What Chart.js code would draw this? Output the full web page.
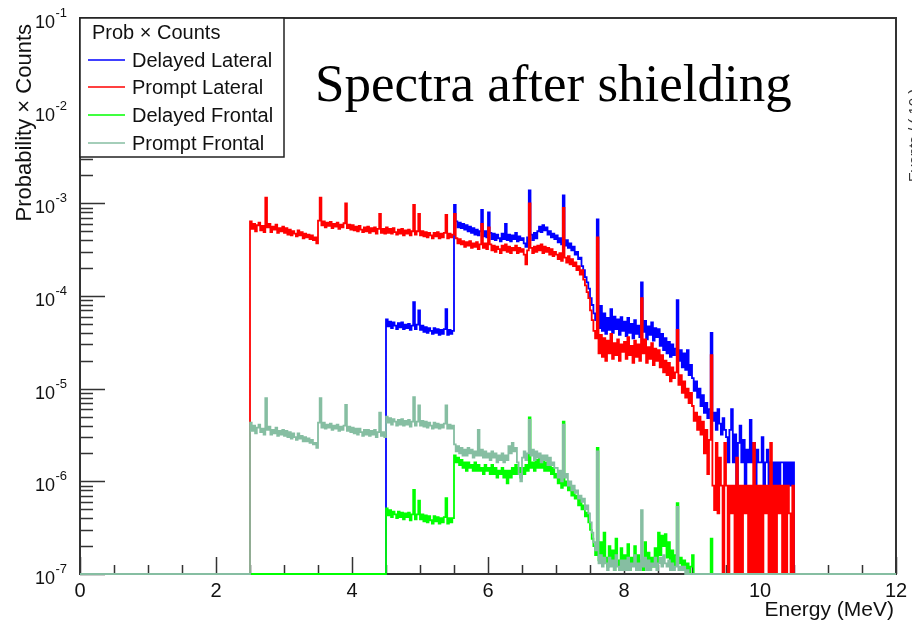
<!DOCTYPE html>
<html>
<head>
<meta charset="utf-8">
<title>Spectra after shielding</title>
<script src="https://cdn.jsdelivr.net/npm/chart.js@4.4.1/dist/chart.umd.min.js"></script>
<style>
  html, body { margin: 0; padding: 0; background: #fff; overflow: hidden; }
  canvas { display: block; }
</style>
</head>
<body>
<canvas id="spectra" width="912" height="622"></canvas>
<script>
// histograms: bins of 0.025 MeV, one row per 0.5 MeV, empty bins = 0
const binWidth = 0.025;
const promptStart = 2.5;
const delayedStart = 4.5;

const energyTicks = [0, 2, 4, 6, 8, 10, 12];
const energyTickLabels = ['0', '2', '4', '6', '8', '10', '12'];
const decadeTicks = [1e-7, 1e-6, 1e-5, 1e-4, 1e-3, 1e-2, 1e-1];
const decadeExponents = ['-7', '-6', '-5', '-4', '-3', '-2', '-1'];

const seriesNames = ['Delayed Lateral', 'Prompt Lateral', 'Delayed Frontal', 'Prompt Frontal'];
const seriesColors = ['#0000ff', '#ff0000', '#00ff00', '#86bea2'];

// starts at 4.5 MeV
const delayedLateral = [
  5.6e-5, 4.7e-5, 5.3e-5, 4.5e-5, 5.2e-5, 4.8e-5, 4.4e-5, 5.1e-5, 4.6e-5, 5.2e-5, 4.4e-5, 4.9e-5, 4.5e-5, 5.0e-5, 4.3e-5, 4.8e-5, 8.6e-5, 4.4e-5, 4.9e-5, 7.0e-5,
  4.3e-5, 4.8e-5, 4.1e-5, 4.6e-5, 4.0e-5, 4.5e-5, 4.2e-5, 3.9e-5, 4.5e-5, 4.0e-5, 4.4e-5, 3.8e-5, 4.3e-5, 3.9e-5, 4.4e-5, 7.2e-5, 3.8e-5, 4.3e-5, 3.9e-5, 4.2e-5,
  9.6e-4, 6.4e-4, 5.5e-4, 6.2e-4, 5.4e-4, 6.0e-4, 5.2e-4, 5.8e-4, 5.0e-4, 5.6e-4, 4.8e-4, 5.4e-4, 4.6e-4, 5.2e-4, 4.5e-4, 5.0e-4, 8.5e-4, 4.4e-4, 5.0e-4, 4.3e-4,
  8.0e-4, 4.8e-4, 4.1e-4, 4.7e-4, 4.0e-4, 4.6e-4, 4.2e-4, 3.9e-4, 4.7e-4, 4.1e-4, 6.0e-4, 4.0e-4, 4.6e-4, 3.9e-4, 4.5e-4, 4.1e-4, 4.8e-4, 3.9e-4, 4.4e-4, 4.0e-4,
  4.2e-4, 3.7e-4, 3.4e-4, 4.3e-4, 1.38e-3, 4.6e-4, 4.0e-4, 4.8e-4, 4.2e-4, 5.0e-4, 5.6e-4, 4.9e-4, 5.8e-4, 5.1e-4, 5.5e-4, 4.6e-4, 5.0e-4, 4.3e-4, 4.7e-4, 4.1e-4,
  4.5e-4, 3.8e-4, 4.2e-4, 3.6e-4, 1.22e-3, 3.5e-4, 4.0e-4, 3.3e-4, 3.7e-4, 3.1e-4, 3.4e-4, 2.8e-4, 3.0e-4, 2.5e-4, 2.6e-4, 2.1e-4, 1.9e-4, 1.6e-4, 1.4e-4, 1.2e-4,
  9.5e-5, 8.0e-5, 6.5e-5, 5.5e-5, 6.7e-4, 4.5e-5, 7.8e-5, 4.2e-5, 6.5e-5, 3.9e-5, 5.8e-5, 4.3e-5, 7.2e-5, 4.0e-5, 6.0e-5, 4.4e-5, 5.6e-5, 3.8e-5, 5.9e-5, 4.2e-5,
  5.3e-5, 3.7e-5, 5.8e-5, 4.0e-5, 5.0e-5, 3.5e-5, 5.5e-5, 3.9e-5, 4.8e-5, 3.6e-5, 1.4e-4, 4.1e-5, 5.4e-5, 3.4e-5, 4.7e-5, 3.8e-5, 5.2e-5, 3.3e-5, 4.5e-5, 3.6e-5,
  4.4e-5, 2.9e-5, 3.9e-5, 2.6e-5, 3.5e-5, 2.4e-5, 3.2e-5, 2.2e-5, 3.0e-5, 2.3e-5, 2.7e-5, 9.0e-5, 2.0e-5, 2.6e-5, 1.7e-5, 2.4e-5, 1.6e-5, 2.6e-5, 1.4e-5, 1.8e-5,
  1.3e-5, 9.5e-6, 1.2e-5, 8.0e-6, 1.0e-5, 6.5e-6, 8.5e-6, 5.5e-6, 7.0e-6, 4.8e-6, 6.0e-6, 4.0e-5, 4.5e-6, 5.5e-6, 3.6e-6, 6.0e-6, 4.2e-6, 3.2e-6, 4.8e-6, 3.6e-6,
  3.0e-6, 1.6e-6, 3.6e-6, 6.0e-6, 1.6e-6, 3.2e-6, 9e-7, 2.6e-6, 4.0e-6, 1.6e-6, 2.8e-6, 9e-7, 2.2e-6, 1.6e-6, 4.6e-6, 1.6e-6, 2.6e-6, 9e-7, 2.2e-6, 1.6e-6,
  1.6e-6, 3.0e-6, 9e-7, 1.6e-6, 2.2e-6, 9e-7, 1.6e-6, 9e-7, 1.6e-6, 9e-7, 1.6e-6, 9e-7, 1.6e-6, 1.6e-6, 9e-7, 1.6e-6, 9e-7, 1.6e-6, 9e-7, 1.6e-6
];

// starts at 2.5 MeV
const promptLateral = [
  6.4e-4, 5.3e-4, 6.0e-4, 5.0e-4, 5.8e-4, 6.2e-4, 5.1e-4, 5.7e-4, 4.9e-4, 1.15e-3, 5.5e-4, 6.0e-4, 4.9e-4, 5.6e-4, 5.2e-4, 5.9e-4, 4.8e-4, 5.4e-4, 5.0e-4, 5.6e-4,
  4.8e-4, 5.4e-4, 4.6e-4, 5.2e-4, 4.5e-4, 5.0e-4, 4.7e-4, 4.4e-4, 5.1e-4, 4.5e-4, 4.9e-4, 4.2e-4, 4.7e-4, 4.3e-4, 4.6e-4, 4.1e-4, 4.5e-4, 4.0e-4, 4.3e-4, 3.7e-4,
  6.5e-4, 1.15e-3, 5.8e-4, 6.4e-4, 5.5e-4, 6.2e-4, 5.7e-4, 6.3e-4, 5.4e-4, 6.0e-4, 5.6e-4, 6.2e-4, 5.3e-4, 5.9e-4, 5.5e-4, 6.1e-4, 1.0e-3, 5.4e-4, 5.9e-4, 5.2e-4,
  5.8e-4, 5.1e-4, 5.6e-4, 5.0e-4, 5.7e-4, 5.2e-4, 4.9e-4, 5.5e-4, 5.0e-4, 5.6e-4, 4.8e-4, 5.4e-4, 5.0e-4, 5.5e-4, 4.7e-4, 5.3e-4, 7.7e-4, 4.8e-4, 5.3e-4, 4.7e-4,
  5.5e-4, 4.8e-4, 5.3e-4, 4.7e-4, 5.4e-4, 4.9e-4, 4.6e-4, 5.2e-4, 4.7e-4, 5.3e-4, 4.5e-4, 5.1e-4, 4.7e-4, 5.2e-4, 4.5e-4, 5.0e-4, 9.6e-4, 4.6e-4, 5.0e-4, 7.7e-4,
  4.5e-4, 5.0e-4, 4.4e-4, 4.9e-4, 4.3e-4, 4.8e-4, 4.5e-4, 4.2e-4, 4.8e-4, 4.4e-4, 4.9e-4, 4.2e-4, 4.7e-4, 4.3e-4, 4.8e-4, 7.5e-4, 4.2e-4, 4.7e-4, 4.3e-4, 4.6e-4,
  7.7e-4, 4.2e-4, 3.7e-4, 4.1e-4, 3.6e-4, 3.9e-4, 3.4e-4, 3.8e-4, 3.5e-4, 3.9e-4, 3.3e-4, 3.7e-4, 3.4e-4, 3.8e-4, 3.2e-4, 3.6e-4, 6.0e-4, 3.3e-4, 3.7e-4, 3.2e-4,
  5.5e-4, 3.6e-4, 3.1e-4, 3.5e-4, 3.0e-4, 3.4e-4, 3.2e-4, 2.9e-4, 3.5e-4, 3.1e-4, 3.6e-4, 3.0e-4, 3.4e-4, 2.9e-4, 3.3e-4, 3.1e-4, 3.5e-4, 2.9e-4, 3.3e-4, 3.0e-4,
  3.2e-4, 2.8e-4, 2.2e-4, 3.1e-4, 1.0e-3, 3.3e-4, 2.9e-4, 3.4e-4, 3.0e-4, 3.5e-4, 3.1e-4, 3.6e-4, 2.9e-4, 3.4e-4, 3.0e-4, 3.3e-4, 2.8e-4, 3.2e-4, 2.7e-4, 3.0e-4,
  2.8e-4, 2.5e-4, 2.9e-4, 2.4e-4, 8.9e-4, 2.6e-4, 2.3e-4, 2.7e-4, 2.2e-4, 2.5e-4, 2.1e-4, 2.3e-4, 1.9e-4, 2.1e-4, 1.7e-4, 1.9e-4, 1.5e-4, 1.3e-4, 1.1e-4, 9.5e-5,
  7.0e-5, 5.5e-5, 4.2e-5, 3.5e-5, 4.3e-4, 2.4e-5, 3.8e-5, 2.2e-5, 3.5e-5, 2.0e-5, 3.3e-5, 2.4e-5, 3.9e-5, 2.1e-5, 3.1e-5, 2.3e-5, 3.4e-5, 2.0e-5, 3.0e-5, 2.5e-5,
  3.2e-5, 2.1e-5, 3.6e-5, 2.3e-5, 2.9e-5, 1.9e-5, 3.3e-5, 2.2e-5, 3.0e-5, 2.0e-5, 9.5e-5, 2.4e-5, 3.4e-5, 1.9e-5, 2.8e-5, 2.1e-5, 3.1e-5, 1.8e-5, 2.7e-5, 2.0e-5,
  2.6e-5, 1.7e-5, 2.3e-5, 1.5e-5, 2.0e-5, 1.4e-5, 1.9e-5, 1.2e-5, 1.7e-5, 1.3e-5, 1.5e-5, 4.3e-5, 1.1e-5, 1.4e-5, 9.0e-6, 1.2e-5, 8.0e-6, 1.0e-5, 7.0e-6, 9.0e-6,
  6.5e-6, 4.5e-6, 5.5e-6, 3.6e-6, 5.0e-6, 3.2e-6, 4.4e-6, 2.0e-6, 3.6e-6, 1.2e-6, 2.8e-6, 2.3e-5, 9e-7, 4.9e-7, 2.6e-6, 4.5e-7, 1.8e-6, 9e-7, 0, 2.6e-6,
  9e-7, 0, 9e-7, 4.5e-7, 9e-7, 0, 1.8e-6, 0, 9e-7, 0, 9e-7, 4.5e-7, 9e-7, 0, 9e-7, 0, 2.6e-6, 0, 9e-7, 0,
  9e-7, 0, 9e-7, 4.5e-7, 9e-7, 0, 2.6e-6, 0, 9e-7, 0, 9e-7, 4.5e-7, 9e-7, 0, 9e-7, 0, 9e-7, 4.5e-7, 0, 9e-7
];

// starts at 4.5 MeV
const delayedFrontal = [
  5.1e-7, 4.3e-7, 4.9e-7, 4.1e-7, 4.7e-7, 4.4e-7, 4.0e-7, 4.7e-7, 4.1e-7, 4.6e-7, 3.9e-7, 4.5e-7, 4.1e-7, 4.6e-7, 3.8e-7, 4.4e-7, 8.1e-7, 3.9e-7, 4.4e-7, 6.2e-7,
  3.9e-7, 4.4e-7, 3.7e-7, 4.3e-7, 3.6e-7, 4.2e-7, 3.8e-7, 3.5e-7, 4.2e-7, 3.7e-7, 4.1e-7, 3.5e-7, 4.0e-7, 3.6e-7, 4.1e-7, 6.6e-7, 3.5e-7, 4.0e-7, 3.6e-7, 4.0e-7,
  1.9e-6, 1.6e-6, 1.8e-6, 1.5e-6, 1.7e-6, 1.4e-6, 1.6e-6, 1.3e-6, 1.6e-6, 1.4e-6, 1.5e-6, 1.3e-6, 1.6e-6, 1.3e-6, 1.5e-6, 1.3e-6, 1.4e-6, 1.2e-6, 1.5e-6, 1.3e-6,
  1.4e-6, 1.2e-6, 1.5e-6, 1.2e-6, 1.4e-6, 1.1e-6, 1.3e-6, 1.2e-6, 1.4e-6, 1.1e-6, 1.3e-6, 9.5e-7, 1.3e-6, 1.1e-6, 1.4e-6, 1.2e-6, 1.5e-6, 1.2e-6, 1.4e-6, 1.1e-6,
  1.4e-6, 1.2e-6, 1.5e-6, 1.3e-6, 4.9e-6, 1.4e-6, 1.6e-6, 1.3e-6, 1.7e-6, 1.4e-6, 1.8e-6, 1.4e-6, 1.7e-6, 1.3e-6, 1.6e-6, 1.3e-6, 1.5e-6, 1.2e-6, 1.4e-6, 1.1e-6,
  1.2e-6, 9.5e-7, 1.1e-6, 8.5e-7, 4.4e-6, 9.0e-7, 1.0e-6, 8.0e-7, 9.0e-7, 7.0e-7, 8.0e-7, 6.5e-7, 7.0e-7, 5.5e-7, 6.5e-7, 5.0e-7, 5.5e-7, 4.2e-7, 4.6e-7, 3.6e-7,
  3.0e-7, 2.4e-7, 2.0e-7, 1.6e-7, 2.3e-6, 1.4e-7, 2.2e-7, 1.3e-7, 2.8e-7, 1.5e-7, 1.2e-7, 2.0e-7, 1.3e-7, 1.8e-7, 1.1e-7, 2.4e-7, 1.4e-7, 1.2e-7, 1.9e-7, 1.1e-7,
  1.6e-7, 1.2e-7, 2.1e-7, 1.1e-7, 1.5e-7, 1.3e-7, 2.0e-7, 1.1e-7, 1.6e-7, 1.2e-7, 1.4e-7, 1.1e-7, 2.2e-7, 1.3e-7, 1.7e-7, 1.1e-7, 1.5e-7, 1.2e-7, 1.9e-7, 1.2e-7,
  2.8e-7, 1.6e-7, 2.6e-7, 2.0e-7, 2.7e-7, 1.5e-7, 2.2e-7, 1.3e-7, 1.8e-7, 1.2e-7, 1.6e-7, 5.8e-7, 1.3e-7, 1.5e-7, 1.2e-7, 1.4e-7, 1.1e-7, 1.3e-7, 0, 1.2e-7,
  1.6e-7, 0, 0, 0, 0, 0, 0, 0, 0, 0, 0, 2.4e-7, 0, 0, 0, 0, 0, 0, 0, 0
];

// starts at 2.5 MeV
const promptFrontal = [
  4.3e-6, 3.5e-6, 4.0e-6, 3.3e-6, 3.8e-6, 4.1e-6, 3.4e-6, 3.7e-6, 3.2e-6, 7.9e-6, 3.6e-6, 3.9e-6, 3.2e-6, 3.6e-6, 3.3e-6, 3.8e-6, 3.1e-6, 3.5e-6, 3.2e-6, 3.6e-6,
  3.1e-6, 3.5e-6, 3.0e-6, 3.4e-6, 2.9e-6, 3.3e-6, 3.0e-6, 2.8e-6, 3.3e-6, 2.9e-6, 3.1e-6, 2.7e-6, 3.0e-6, 2.7e-6, 2.9e-6, 2.6e-6, 2.8e-6, 2.5e-6, 2.6e-6, 2.3e-6,
  4.3e-6, 7.9e-6, 3.8e-6, 4.3e-6, 3.7e-6, 4.1e-6, 3.8e-6, 4.2e-6, 3.6e-6, 4.0e-6, 3.7e-6, 4.1e-6, 3.5e-6, 3.9e-6, 3.6e-6, 4.0e-6, 6.7e-6, 3.5e-6, 3.9e-6, 3.4e-6,
  3.8e-6, 3.3e-6, 3.7e-6, 3.2e-6, 3.7e-6, 3.4e-6, 3.1e-6, 3.6e-6, 3.2e-6, 3.6e-6, 3.1e-6, 3.5e-6, 3.2e-6, 3.6e-6, 3.0e-6, 3.4e-6, 5.5e-6, 3.1e-6, 3.4e-6, 3.0e-6,
  5.0e-6, 4.3e-6, 4.8e-6, 4.1e-6, 4.7e-6, 4.4e-6, 4.0e-6, 4.6e-6, 4.1e-6, 4.7e-6, 4.0e-6, 4.5e-6, 4.1e-6, 4.6e-6, 3.9e-6, 4.4e-6, 8.1e-6, 4.0e-6, 4.4e-6, 6.6e-6,
  4.0e-6, 4.5e-6, 3.9e-6, 4.4e-6, 3.8e-6, 4.3e-6, 4.0e-6, 3.7e-6, 4.3e-6, 3.8e-6, 4.2e-6, 3.7e-6, 4.1e-6, 3.8e-6, 4.2e-6, 6.6e-6, 3.7e-6, 4.1e-6, 3.7e-6, 4.0e-6,
  2.5e-6, 2.1e-6, 2.4e-6, 2.0e-6, 2.3e-6, 1.9e-6, 2.2e-6, 1.9e-6, 2.3e-6, 2.0e-6, 2.2e-6, 1.8e-6, 2.1e-6, 1.9e-6, 3.6e-6, 1.9e-6, 2.2e-6, 1.8e-6, 2.1e-6, 1.8e-6,
  2.0e-6, 1.7e-6, 2.1e-6, 1.8e-6, 2.0e-6, 1.6e-6, 1.9e-6, 1.7e-6, 2.0e-6, 1.6e-6, 1.9e-6, 1.7e-6, 2.4e-6, 2.0e-6, 2.6e-6, 2.1e-6, 2.3e-6, 1.6e-6, 1.2e-6, 1.0e-6,
  1.8e-6, 2.1e-6, 1.7e-6, 2.0e-6, 4.6e-6, 1.9e-6, 2.2e-6, 1.7e-6, 2.1e-6, 1.8e-6, 2.0e-6, 1.6e-6, 1.9e-6, 1.7e-6, 1.9e-6, 1.5e-6, 1.8e-6, 1.5e-6, 1.6e-6, 1.4e-6,
  1.4e-6, 1.1e-6, 1.3e-6, 1.0e-6, 4.1e-6, 1.1e-6, 1.2e-6, 9.0e-7, 1.0e-6, 8.0e-7, 9.0e-7, 7.5e-7, 8.0e-7, 6.5e-7, 7.0e-7, 6.0e-7, 6.5e-7, 5.0e-7, 5.5e-7, 4.5e-7,
  3.6e-7, 2.8e-7, 2.2e-7, 1.8e-7, 2.1e-6, 1.3e-7, 1.6e-7, 1.2e-7, 1.5e-7, 1.3e-7, 1.1e-7, 1.5e-7, 1.2e-7, 1.4e-7, 1.1e-7, 1.6e-7, 1.2e-7, 1.1e-7, 1.4e-7, 1.1e-7,
  1.4e-7, 1.1e-7, 1.5e-7, 1.1e-7, 1.3e-7, 1.2e-7, 1.6e-7, 1.1e-7, 1.3e-7, 1.1e-7, 4.9e-7, 1.2e-7, 1.5e-7, 1.1e-7, 1.4e-7, 1.1e-7, 1.3e-7, 1.2e-7, 1.5e-7, 1.1e-7,
  1.3e-7, 1.5e-7, 1.2e-7, 1.6e-7, 1.3e-7, 1.2e-7, 1.4e-7, 1.1e-7, 1.3e-7, 1.1e-7, 1.2e-7, 5.3e-7, 1.1e-7, 1.2e-7, 1.1e-7, 1.2e-7, 0, 1.1e-7, 0, 0
];

const yFloor = decadeTicks[0];
const xMin = energyTicks[0];
const xMax = energyTicks[energyTicks.length - 1];

// ROOT style: empty bins sit on the axis floor, histogram drawn as steps
function histPoints(start, values) {
  const pts = [{ x: xMin, y: yFloor }];
  values.forEach((v, i) => {
    pts.push({ x: start + i * binWidth, y: v > 0 ? v : yFloor });
  });
  pts.push({ x: start + values.length * binWidth, y: yFloor });
  pts.push({ x: xMax, y: yFloor });
  return pts;
}

const allSeries = [
  [delayedStart, delayedLateral],
  [promptStart, promptLateral],
  [delayedStart, delayedFrontal],
  [promptStart, promptFrontal]
];

const datasets = allSeries.map(([start, values], i) => ({
  label: seriesNames[i],
  data: histPoints(start, values),
  borderColor: seriesColors[i],
  borderWidth: 1.8,
  stepped: 'before',
  pointRadius: 0,
  fill: false,
  clip: 3,
  order: 4 - i   // last series ends up on top
}));

const SANS = '"Liberation Sans", Arial, sans-serif';

const rootFrame = {
  id: 'rootFrame',
  beforeDatasetsDraw(chart) {
    const { ctx, chartArea: a, scales: { x, y } } = chart;
    ctx.save();
    ctx.strokeStyle = '#333';
    ctx.lineWidth = 1.5;
    ctx.beginPath();
    // x ticks every 0.5 MeV, major every 2
    for (let e = xMin; e <= xMax + 1e-9; e += 0.5) {
      const px = Math.round(x.getPixelForValue(e)) + 0.5;
      const len = energyTicks.includes(e) ? 17 : 9;
      ctx.moveTo(px, a.bottom);
      ctx.lineTo(px, a.bottom - len);
    }
    // y ticks: decades plus 2..9 minors
    decadeTicks.forEach((d, k) => {
      const py = Math.round(y.getPixelForValue(d)) + 0.5;
      ctx.moveTo(a.left, py);
      ctx.lineTo(a.left + 25, py);
      if (k < decadeTicks.length - 1) {
        for (let m = 2; m <= 9; m++) {
          const pm = Math.round(y.getPixelForValue(d * m)) + 0.5;
          ctx.moveTo(a.left, pm);
          ctx.lineTo(a.left + 13, pm);
        }
      }
    });
    ctx.stroke();
    ctx.lineWidth = 2;
    ctx.strokeRect(a.left, a.top, a.right - a.left, a.bottom - a.top);
    ctx.restore();
  },
  afterDraw(chart) {
    const { ctx, chartArea: a, scales: { x, y } } = chart;
    ctx.save();
    ctx.fillStyle = '#111';

    // tick labels
    ctx.font = '20px ' + SANS;
    ctx.textAlign = 'center';
    ctx.textBaseline = 'alphabetic';
    energyTicks.forEach((e, i) => {
      ctx.fillText(energyTickLabels[i], x.getPixelForValue(e), 597);
    });
    decadeTicks.forEach((d, i) => {
      const py = y.getPixelForValue(d);
      ctx.font = '18px ' + SANS;
      ctx.textAlign = 'right';
      ctx.fillText('10', 55, py + 10);
      ctx.font = '13px ' + SANS;
      ctx.textAlign = 'left';
      ctx.fillText(decadeExponents[i], 55.5, py - 1);
    });

    // axis titles
    ctx.font = '21px ' + SANS;
    ctx.textAlign = 'right';
    ctx.fillText('Energy (MeV)', a.right - 2, 616);
    ctx.save();
    ctx.font = '22px ' + SANS;
    ctx.translate(31, 24);
    ctx.rotate(-Math.PI / 2);
    ctx.fillText('Probability \u00d7 Counts', 0, 0);
    ctx.restore();

    // neighbouring pad's axis title, cut by the canvas edge
    ctx.save();
    ctx.fillStyle = '#333';
    ctx.font = '15px ' + SANS;
    ctx.translate(919, 182);
    ctx.rotate(-Math.PI / 2);
    ctx.textAlign = 'left';
    ctx.fillText('Events / ( 10 )', 0, 0);
    ctx.restore();

    // legend box
    const lx = a.left, ly = a.top, lw = 204, lh = 139;
    ctx.fillStyle = '#fff';
    ctx.fillRect(lx, ly, lw, lh);
    ctx.strokeStyle = '#222';
    ctx.lineWidth = 1.5;
    ctx.strokeRect(lx, ly, lw, lh);
    ctx.fillStyle = '#111';
    ctx.font = '20px ' + SANS;
    ctx.textAlign = 'left';
    ctx.fillText('Prob \u00d7 Counts', lx + 12, ly + 21);
    const rows = [60, 87, 115, 143];
    seriesNames.forEach((name, i) => {
      ctx.strokeStyle = seriesColors[i];
      ctx.lineWidth = 1.5;
      ctx.beginPath();
      ctx.moveTo(lx + 8, rows[i]);
      ctx.lineTo(lx + 45, rows[i]);
      ctx.stroke();
      ctx.fillText(name, lx + 52, rows[i] + 7);
    });

    // title
    ctx.font = '53px "Liberation Serif", "Times New Roman", serif';
    ctx.fillStyle = '#000';
    ctx.fillText('Spectra after shielding', 315, 101);
    ctx.restore();
  }
};

new Chart(document.getElementById('spectra'), {
  type: 'line',
  data: { datasets },
  options: {
    responsive: false,
    devicePixelRatio: 1,
    animation: false,
    events: [],
    layout: { padding: { left: 80, top: 18, right: 16, bottom: 48 } },
    plugins: { legend: { display: false }, tooltip: { enabled: false } },
    scales: {
      x: { type: 'linear', min: xMin, max: xMax, display: false },
      y: { type: 'logarithmic', min: decadeTicks[0], max: decadeTicks[decadeTicks.length - 1], display: false }
    }
  },
  plugins: [rootFrame]
});
</script>
</body>
</html>
